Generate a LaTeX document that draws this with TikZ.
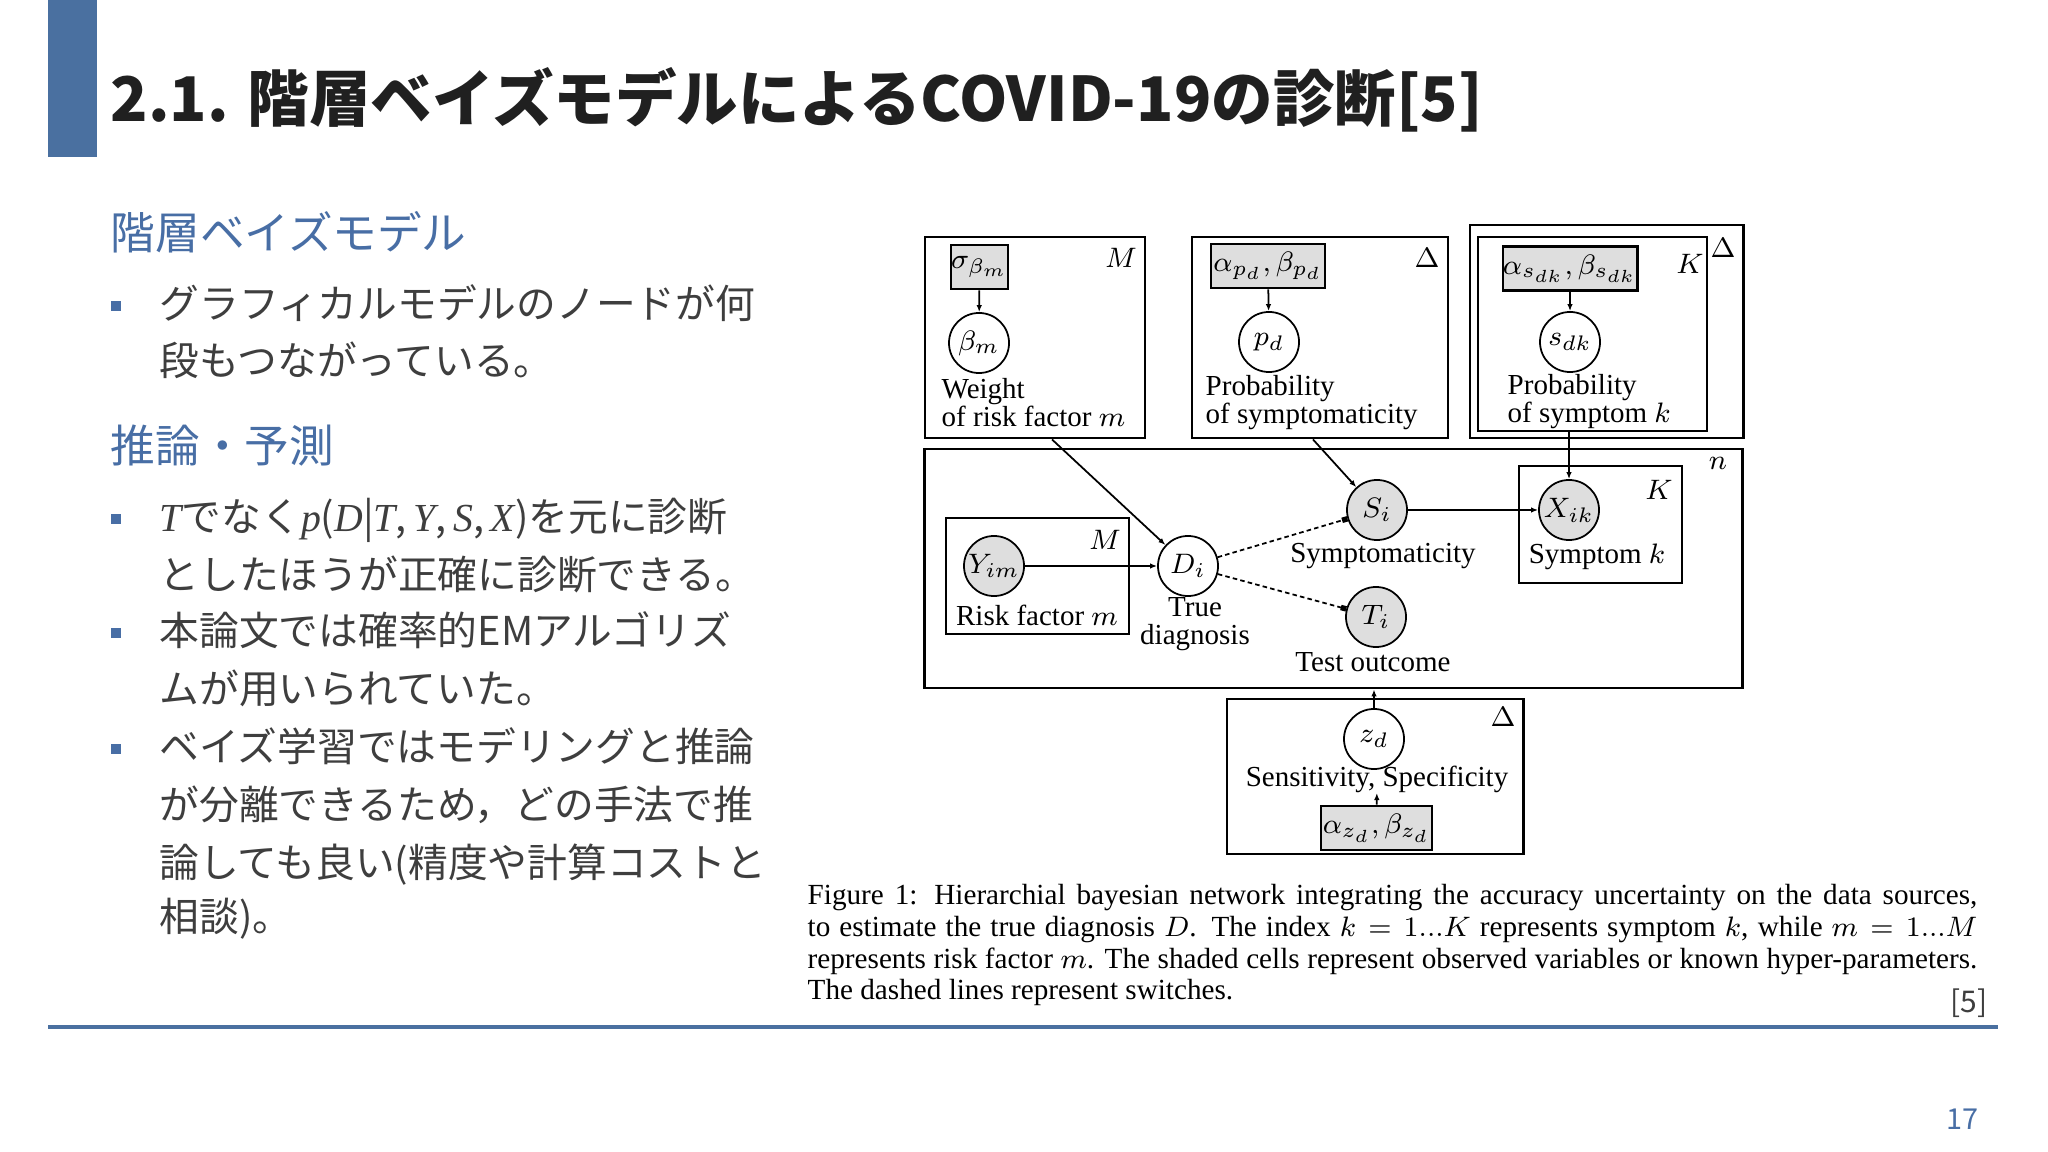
\documentclass[tikz,border=0pt]{standalone}
\definecolor{barblue}{RGB}{74,112,160}
\definecolor{headblue}{RGB}{72,110,165}
\definecolor{bodygray}{RGB}{62,62,62}
\definecolor{titleblack}{RGB}{32,32,32}
\definecolor{cellgray}{RGB}{222,222,222}
\usepackage{fontspec}
\setmainfont{Liberation Serif}
\newfontfamily\jpfont{Noto Sans CJK JP}
\usepackage{tikz}
\usetikzlibrary{arrows.meta,positioning}
\newcommand{\figfont}{\fontsize{8.25}{8}\selectfont}
\newcommand{\capfont}{\fontsize{8.3}{9.5}\selectfont}
\newcommand{\mi}[1]{{\rmfamily\itshape #1}}

\begin{document}
\begin{tikzpicture}[
    x=0.01cm, y=-0.01cm,
    plate/.style={draw,line width=0.8pt,inner sep=0pt},
    latent/.style={draw,circle,fill=white,line width=0.5pt,
                   minimum size=0.6cm,inner sep=0pt,font=\figfont},
    obs/.style={latent,fill=cellgray},
    hyper/.style={draw,fill=cellgray,line width=0.8pt,
                  minimum height=0.44cm,inner sep=0pt,font=\figfont},
    lbl/.style={font=\figfont,inner sep=0pt,align=center},
    arr/.style={-{Latex[length=0.07cm,width=0.055cm]},line width=0.5pt},
    sw/.style={-{Square[length=0.055cm,width=0.055cm]},line width=0.5pt,
               dash pattern=on 1.3pt off 0.9pt},
    jptext/.style={anchor=west,inner sep=0pt,text height=0.88em,text depth=0.12em,
                   font=\jpfont\fontsize{11.3}{13}\selectfont,text=bodygray},
    jphead/.style={jptext,font=\jpfont\fontsize{12.7}{14}\selectfont,text=headblue},
    bulletsq/.style={fill=headblue,minimum size=0.1cm,inner sep=0pt},
    capline/.style={anchor=west,inner sep=0pt,text height=0.68em,text depth=0.22em,
                    font=\capfont}]

    \useasboundingbox[fill=white] (0,0) rectangle (2048,1152);

    % Title
    \fill[barblue] (48,0) rectangle (97,157);
    \node[anchor=west,inner sep=0pt,text=titleblack,
          font=\jpfont\bfseries\fontsize{17.5}{20}\selectfont] (title) at (110,100)
      {2.1. 階層ベイズモデルによるCOVID-19の診断[5]};

    % Left column
    \node[jphead] (h1) at (110,236) {階層ベイズモデル};
    \node[bulletsq] (b1) at (116,306) {};
    \node[jptext] (t1a) at (159,305) {グラフィカルモデルのノードが何};
    \node[jptext] (t1b) at (159,362) {段もつながっている。};

    \node[jphead] (h2) at (110,449) {推論・予測};
    \node[bulletsq] (b2) at (116,519) {};
    \node[jptext] (t2a) at (159,518)
      {\mi{T}でなく\mi{p}(\mi{D}|\mi{T},\,\mi{Y},\,\mi{S},\,\mi{X})を元に診断};
    \node[jptext] (t2b) at (159,576) {としたほうが正確に診断できる。};
    \node[bulletsq] (b3) at (116,633) {};
    \node[jptext] (t3a) at (159,632) {本論文では確率的EMアルゴリズ};
    \node[jptext] (t3b) at (159,690) {ムが用いられていた。};
    \node[bulletsq] (b4) at (116,749) {};
    \node[jptext] (t4a) at (159,748) {ベイズ学習ではモデリングと推論};
    \node[jptext] (t4b) at (159,806) {が分離できるため，どの手法で推};
    \node[jptext] (t4c) at (159,864) {論しても良い(精度や計算コストと};
    \node[jptext] (t4d) at (159,918) {相談)。};

    % Plates
    \node[plate,minimum width=2.20cm,minimum height=2.01cm] (pM)   at (1035,337.5) {};
    \node[plate,minimum width=2.56cm,minimum height=2.01cm] (pPd)  at (1320,337.5) {};
    \node[plate,minimum width=2.73cm,minimum height=2.13cm] (pOut) at (1606.5,331.5) {};
    \node[plate,minimum width=2.29cm,minimum height=1.94cm] (pSdk) at (1592.5,334) {};
    \node[plate,minimum width=8.17cm,minimum height=2.39cm] (pN)   at (1333.5,568.5) {};
    \node[plate,minimum width=1.83cm,minimum height=1.16cm] (pY)   at (1037.5,576) {};
    \node[plate,minimum width=1.63cm,minimum height=1.17cm] (pX)   at (1600.5,524.5) {};
    \node[plate,minimum width=2.96cm,minimum height=1.55cm] (pZ)   at (1375,776.5) {};

    \node[lbl] (lM1) at (1121,258) {$M$};
    \node[lbl] (lD1) at (1427,258) {$\Delta$};
    \node[lbl] (lK1) at (1690,264) {$K$};
    \node[lbl] (lD2) at (1723,248) {$\Delta$};
    \node[lbl] (ln)  at (1718,463) {$n$};
    \node[lbl] (lM2) at (1105,540) {$M$};
    \node[lbl] (lK2) at (1659,490) {$K$};
    \node[lbl] (lD3) at (1503,717) {$\Delta$};

    % Hyper-parameters
    \node[hyper,minimum width=0.47cm] (sig)  at (979.5,267) {$\sigma_{\beta_m}$};
    \node[hyper,minimum width=1.14cm] (apd)  at (1268,266)  {$\alpha_{p_d},\beta_{p_d}$};
    \node[hyper,minimum width=1.30cm] (asdk) at (1570,268.5) {$\alpha_{s_{dk}},\beta_{s_{dk}}$};
    \node[hyper,minimum width=1.11cm] (azd)  at (1376.5,828) {$\alpha_{z_d},\beta_{z_d}$};

    % Variables
    \node[latent] (bm)  at (979,343)  {$\beta_m$};
    \node[latent] (pd)  at (1269,342) {$p_d$};
    \node[latent] (sdk) at (1570,342) {$s_{dk}$};
    \node[obs]    (Y)   at (994,566)  {$Y_{im}$};
    \node[latent] (D)   at (1188,566) {$D_i$};
    \node[obs]    (S)   at (1377,510) {$S_i$};
    \node[obs]    (T)   at (1376,617) {$T_i$};
    \node[obs]    (X)   at (1569,510) {$X_{ik}$};
    \node[latent] (zd)  at (1374,739) {$z_d$};

    % Labels
    \node[lbl,anchor=west,align=left] (wlab) at (941,403)  {Weight\\of risk factor $m$};
    \node[lbl,anchor=west,align=left] (plab) at (1205,403) {Probability\\of symptomaticity};
    \node[lbl,anchor=west,align=left] (slab) at (1507,402) {Probability\\of symptom $k$};
    \node[lbl] (rlab) at (1037,615) {Risk factor $m$};
    \node[lbl] (dlab) at (1195,624) {True\\diagnosis};
    \node[lbl] (smlab) at (1383,556) {Symptomaticity};
    \node[lbl] (tlab) at (1373,662) {Test outcome};
    \node[lbl] (xlab) at (1597,557) {Symptom $k$};
    \node[lbl] (sens) at (1377,779) {Sensitivity, Specificity};

    % Edges
    \draw[arr] (sig) -- (bm);
    \draw[arr] (apd) -- (pd);
    \draw[arr] (asdk) -- (sdk);
    \draw[arr] ([xshift=0.17cm]pM.south) -- (D);
    \draw[arr] ([xshift=-0.07cm]pPd.south) -- (S);
    \draw[arr] (X |- pSdk.south) -- (X);
    \draw[arr] (Y) -- (D);
    \draw[sw] (D) -- (S);
    \draw[sw] (D) -- (T);
    \draw[arr] (S) -- (X);
    \draw[arr] (zd) -- (zd |- pN.south);
    \draw[arr] (azd) -- (sens);

    % Caption
    \node[capline] (cap1) at (807,896)
      {\makebox[11.69cm][s]{Figure 1: Hierarchial bayesian network integrating the accuracy uncertainty on the data sources,}};
    \node[capline] (cap2) at (807,928)
      {\makebox[11.69cm][s]{to estimate the true diagnosis $D$. The index $k = 1...K$ represents symptom $k$, while $m = 1...M$}};
    \node[capline] (cap3) at (807,960)
      {\makebox[11.69cm][s]{represents risk factor $m$. The shaded cells represent observed variables or known hyper-parameters.}};
    \node[capline] (cap4) at (807,991) {The dashed lines represent switches.};
    \node[anchor=east,inner sep=0pt,text=bodygray,
          font=\jpfont\fontsize{8.5}{10}\selectfont] (ref) at (1988,1003) {[5]};

    % Footer
    \draw[barblue,line width=0.04cm] (48,1027) -- (1998,1027);
    \node[anchor=east,inner sep=0pt,text=headblue,
          font=\jpfont\fontsize{8.2}{10}\selectfont] (pageno) at (1979,1119) {17};
  \end{tikzpicture}
\end{document}
